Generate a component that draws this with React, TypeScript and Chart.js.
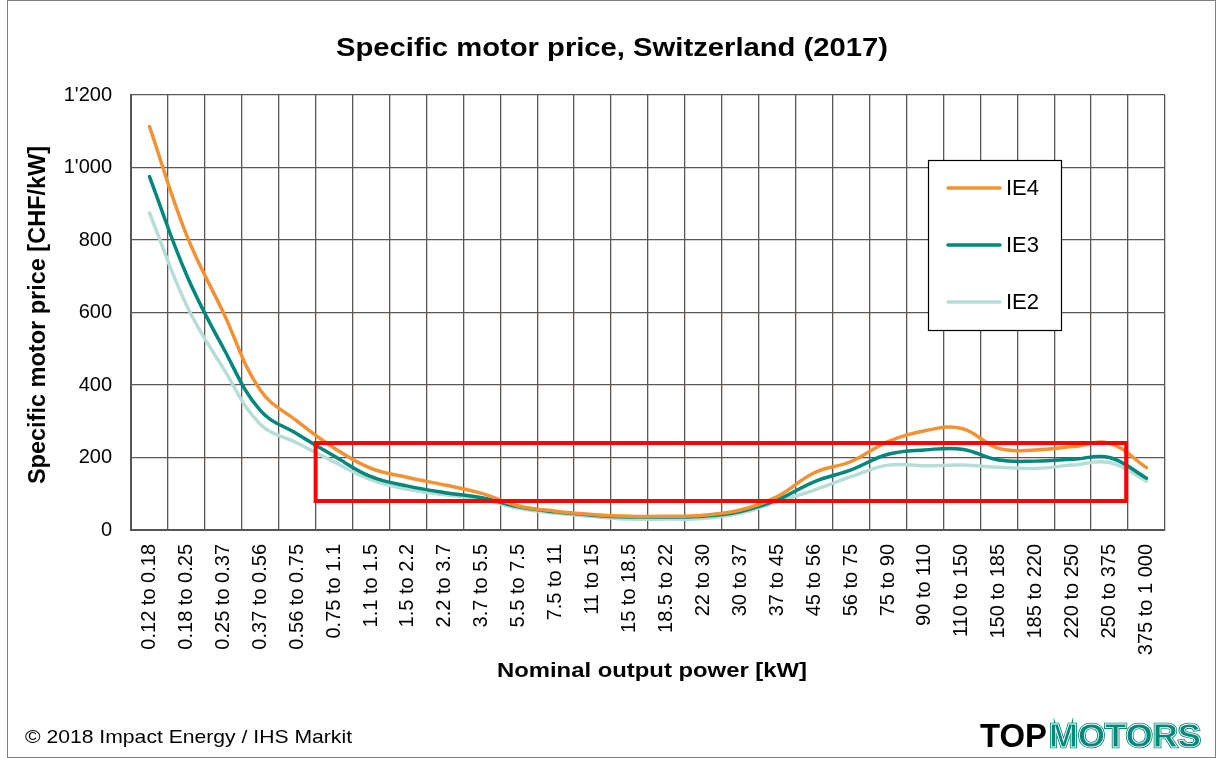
import React, { useEffect, useRef } from 'react';
import { Chart, registerables } from 'chart.js';

Chart.register(...registerables);

const categories = [
  '0.12 to 0.18', '0.18 to 0.25', '0.25 to 0.37', '0.37 to 0.56', '0.56 to 0.75',
  '0.75 to 1.1', '1.1 to 1.5', '1.5 to 2.2', '2.2 to 3.7', '3.7 to 5.5',
  '5.5 to 7.5', '7.5 to 11', '11 to 15', '15 to 18.5', '18.5 to 22',
  '22 to 30', '30 to 37', '37 to 45', '45 to 56', '56 to 75',
  '75 to 90', '90 to 110', '110 to 150', '150 to 185', '185 to 220',
  '220 to 250', '250 to 375', '375 to 1 000',
];

const ie4 = [1113, 815, 600, 386, 300, 226, 170, 145, 124, 101, 66, 52, 43, 38, 38, 41, 55, 92, 158, 189, 244, 274, 280, 225, 221, 230, 239, 172];
const ie3 = [975, 705, 502, 330, 265, 204, 147, 121, 103, 89, 64, 50, 41, 36, 36, 38, 51, 83, 133, 166, 209, 221, 223, 193, 190, 195, 200, 143];
const ie2 = [875, 621, 446, 292, 240, 188, 138, 112, 97, 85, 60, 46, 37, 30, 30, 32, 46, 78, 110, 147, 179, 177, 179, 173, 170, 179, 186, 135];

const seriesNames = ['IE4', 'IE3', 'IE2'];
const seriesColors = ['#F39233', '#00877B', '#B6DDD6'];

const yMin = 0;
const yMax = 1200;
const yStep = 200;

// highlighted range (category index positions and value bounds)
const highlightFrom = 4.5;
const highlightTo = 26.45;
const highlightLow = 80;
const highlightHigh = 240;

const titleText = 'Specific motor price, Switzerland (2017)';
const yTitleText = 'Specific motor price [CHF/kW]';
const xTitleText = 'Nominal output power [kW]';
const footerText = '\u00A9 2018 Impact Energy / IHS Markit';

const FONT = '"Liberation Sans", Arial, Helvetica, sans-serif';

function fitText(ctx: CanvasRenderingContext2D, text: string, x: number, y: number, width: number, align: CanvasTextAlign) {
  const w = ctx.measureText(text).width;
  const s = width / w;
  ctx.save();
  ctx.translate(x, y);
  ctx.scale(s, 1);
  ctx.textAlign = align;
  ctx.fillText(text, 0, 0);
  ctx.restore();
}

function formatTick(v: number): string {
  const s = String(Math.round(v));
  return s.replace(/\B(?=(\d{3})+(?!\d))/g, "'");
}

const decorPlugin = {
  id: 'decor',
  beforeDraw(chart: any) {
    const ctx = chart.ctx as CanvasRenderingContext2D;
    ctx.save();
    ctx.fillStyle = '#ffffff';
    ctx.fillRect(0, 0, chart.width, chart.height);
    ctx.restore();
  },
  afterDatasetsDraw(chart: any) {
    const ctx = chart.ctx as CanvasRenderingContext2D;
    const xs = chart.scales.x;
    const ys = chart.scales.y;
    const x1 = xs.getPixelForValue(highlightFrom);
    const x2 = xs.getPixelForValue(highlightTo);
    const y1 = ys.getPixelForValue(highlightHigh);
    const y2 = ys.getPixelForValue(highlightLow);
    ctx.save();
    ctx.strokeStyle = '#FF0000';
    ctx.lineWidth = 4;
    ctx.strokeRect(x1, y1, x2 - x1, y2 - y1);
    ctx.restore();
  },
  afterDraw(chart: any) {
    const ctx = chart.ctx as CanvasRenderingContext2D;
    ctx.save();
    ctx.fillStyle = '#000000';
    ctx.textBaseline = 'alphabetic';

    // title
    ctx.font = `bold 26px ${FONT}`;
    fitText(ctx, titleText, 612, 55.5, 552, 'center');

    // x title
    ctx.font = `bold 21px ${FONT}`;
    fitText(ctx, xTitleText, 652, 677, 310, 'center');

    // y title
    ctx.save();
    ctx.translate(45, 315);
    ctx.rotate(-Math.PI / 2);
    ctx.font = `bold 23.5px ${FONT}`;
    ctx.textAlign = 'center';
    ctx.fillText(yTitleText, 0, 0);
    ctx.restore();

    // footer
    ctx.font = `19px ${FONT}`;
    fitText(ctx, footerText, 25, 743, 327, 'left');

    // logo
    ctx.font = `bold 33px ${FONT}`;
    fitText(ctx, 'TOP', 980, 747, 67, 'left');
    {
      const w = ctx.measureText('MOTORS').width;
      const s = 152 / w;
      ctx.save();
      ctx.translate(1049, 747);
      ctx.scale(s, 1);
      ctx.textAlign = 'left';
      ctx.fillStyle = '#00897B';
      ctx.strokeStyle = '#00897B';
      ctx.lineWidth = 2.5;
      ctx.lineJoin = 'miter';
      ctx.strokeText('MOTORS', 0, 0);
      ctx.fillText('MOTORS', 0, 0);
      ctx.strokeStyle = '#ffffff';
      ctx.lineWidth = 0.8;
      ctx.strokeText('MOTORS', 0, 0);
      ctx.restore();
    }

    // legend
    const lx = 928.5, ly = 160.5, lw = 133, lh = 170;
    ctx.fillStyle = '#ffffff';
    ctx.fillRect(lx, ly, lw, lh);
    ctx.strokeStyle = '#000000';
    ctx.lineWidth = 1.2;
    ctx.strokeRect(lx, ly, lw, lh);
    const rows = [188, 245, 302];
    chart.data.datasets.forEach((ds: any, i: number) => {
      const yy = rows[i];
      ctx.strokeStyle = ds.borderColor;
      ctx.lineWidth = 3.5;
      ctx.lineCap = 'round';
      ctx.beginPath();
      ctx.moveTo(948, yy);
      ctx.lineTo(1000, yy);
      ctx.stroke();
      ctx.fillStyle = '#000000';
      ctx.font = `22px ${FONT}`;
      ctx.textAlign = 'left';
      ctx.textBaseline = 'middle';
      ctx.fillText(ds.label, 1006, yy + 1);
    });

    // outer frame
    ctx.strokeStyle = '#808080';
    ctx.lineWidth = 1;
    ctx.strokeRect(7.5, 0.5, 1208, 757);
    ctx.restore();
  },
};

export default function App() {
  const ref = useRef<HTMLCanvasElement | null>(null);

  useEffect(() => {
    if (!ref.current) return;
    const series = [ie4, ie3, ie2];
    const chart = new Chart(ref.current, {
      type: 'line',
      data: {
        labels: categories,
        datasets: series.map((d, i) => ({
          label: seriesNames[i],
          data: d,
          borderColor: seriesColors[i],
          backgroundColor: seriesColors[i],
          borderWidth: 3.5,
          pointRadius: 0,
          pointHoverRadius: 0,
          tension: 0.4,
          fill: false,
          borderCapStyle: 'round' as const,
        })),
      },
      options: {
        animation: false,
        responsive: false,
        maintainAspectRatio: false,
        devicePixelRatio: 1,
        layout: { padding: { top: 95, right: 53, left: 0, bottom: 0 } },
        plugins: {
          legend: { display: false },
          title: { display: false },
          tooltip: { enabled: false },
        },
        scales: {
          x: {
            type: 'category',
            offset: true,
            grid: {
              offset: true,
              color: '#5C5753',
              lineWidth: 1.3,
              drawTicks: false,
            },
            border: { display: true, color: '#555555', width: 2 },
            ticks: {
              autoSkip: false,
              maxRotation: 90,
              minRotation: 90,
              padding: 14,
              color: '#000000',
              font: { family: FONT, size: 20 },
            },
            afterFit(scale: any) {
              scale.height = 228;
            },
          },
          y: {
            min: yMin,
            max: yMax,
            grid: {
              color: '#5C5753',
              lineWidth: 1.3,
              drawTicks: false,
            },
            border: { display: true, color: '#555555', width: 2 },
            ticks: {
              stepSize: yStep,
              padding: 19,
              color: '#000000',
              font: { family: FONT, size: 20 },
              callback: (v: any) => formatTick(Number(v)),
            },
            afterFit(scale: any) {
              scale.width = 131;
            },
          },
        },
      },
      plugins: [decorPlugin],
    } as any);
    return () => chart.destroy();
  }, []);

  return (
    <div style={{ position: 'fixed', left: 0, top: 0, width: 1218, height: 758, background: '#fff' }}>
      <canvas ref={ref} width={1218} height={758} style={{ width: 1218, height: 758, display: 'block' }} />
    </div>
  );
}
